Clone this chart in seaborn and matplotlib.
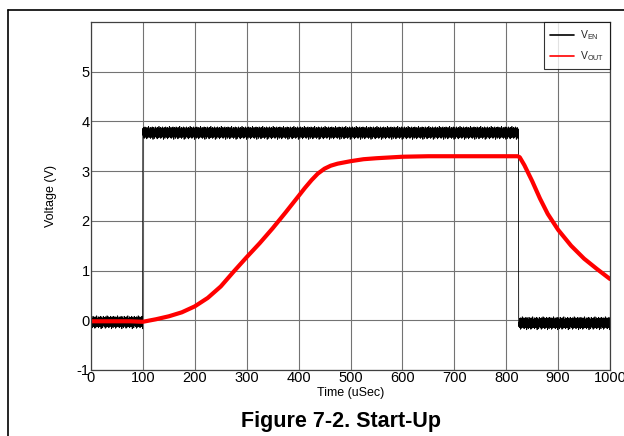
import numpy as np
import pandas as pd
import matplotlib.pyplot as plt
import seaborn as sns
from matplotlib.lines import Line2D

sns.set_style("whitegrid", {"grid.color": ".45", "axes.edgecolor": ".25"})
plt.rcParams['font.family'] = ['Liberation Sans', 'DejaVu Sans']
plt.rcParams['axes.unicode_minus'] = False

# V_EN: step levels, plus a short hand-read noise pattern
ven_edges = [100, 824]
ven_levels = [-0.03, 3.78, -0.05]
ven_noise = [0.08, -0.06, 0.10, -0.09, 0.04, -0.12, 0.07, -0.04, 0.11, -0.08,
             0.02, -0.10, 0.09, -0.07, 0.05, -0.13, 0.10, -0.05, 0.08, -0.11,
             0.03, -0.09, 0.12, -0.06, 0.07, -0.10, 0.04, -0.08, 0.10, -0.12,
             0.06, -0.05, 0.09, -0.10, 0.02, -0.07, 0.11, -0.09, 0.05, -0.14]

# V_OUT
vout_t = [0, 25, 50, 75, 100, 125, 150, 175, 200, 225, 250, 275, 300, 325, 350,
          375, 400, 412, 425, 437, 450, 462, 475, 500, 525, 550, 600, 650, 700,
          750, 800, 822, 826, 835, 850, 865, 880, 900, 925, 950, 975, 1000]
vout_v = [-0.02, -0.02, -0.02, -0.02, -0.03, 0.02, 0.08, 0.16, 0.28, 0.45, 0.68,
          0.98, 1.27, 1.55, 1.85, 2.17, 2.50, 2.66, 2.82, 2.95, 3.05, 3.11, 3.15,
          3.20, 3.24, 3.26, 3.29, 3.30, 3.30, 3.30, 3.30, 3.30, 3.28, 3.12, 2.80,
          2.45, 2.14, 1.82, 1.50, 1.24, 1.03, 0.83]

t = np.arange(0, 1000.5, 0.5)
ven = np.select([t < ven_edges[0], t < ven_edges[1]], ven_levels[:2], ven_levels[2])
ven = ven + np.resize(ven_noise, t.size)
df_en = pd.DataFrame({"Time": t, "V": ven})
df_out = pd.DataFrame({"Time": vout_t, "V": vout_v})

fig = plt.figure(figsize=(6.24, 4.36), dpi=100)
ax = fig.add_axes([0.1458, 0.1514, 0.8318, 0.7981])

sns.lineplot(data=df_en, x="Time", y="V", color="black", lw=0.6,
             estimator=None, sort=False, ax=ax, label="V$_{\\mathregular{EN}}$")
sns.lineplot(data=df_out, x="Time", y="V", color="#ff0000", lw=3.0,
             estimator=None, sort=False, ax=ax, label="V$_{\\mathregular{OUT}}$")

ax.set_xlim(0, 1000)
ax.set_ylim(-1, 6)
ax.set_xticks(range(0, 1001, 100))
ax.set_yticks(range(-1, 6))
ax.tick_params(labelsize=10.5, pad=1, length=0, labelcolor="black")
ax.grid(True, lw=0.8)
for s in ax.spines.values():
    s.set_linewidth(0.9)
ax.set_xlabel("Time (uSec)", fontsize=9, labelpad=1, color="black")
ax.set_ylabel("Voltage (V)", fontsize=9, labelpad=14, color="black")

leg = ax.legend(loc="upper right", fontsize=7.5, frameon=True, fancybox=False,
                borderaxespad=0, handlelength=2.3, handletextpad=0.5,
                borderpad=0.6, labelspacing=0.7)
leg.get_frame().set_edgecolor("black")
leg.get_frame().set_linewidth(0.8)
for h in leg.get_lines():
    h.set_linewidth(1.2)

fig.text(0.547, 0.021, "Figure 7-2. Start-Up", ha="center", fontsize=15.5,
         fontweight="bold", color="black")

# outer frame of the figure panel
fig.add_artist(Line2D([8 / 624, 8 / 624], [0, 1 - 10 / 436], color="black", lw=1.2))
fig.add_artist(Line2D([8 / 624, 1], [1 - 10 / 436, 1 - 10 / 436], color="black", lw=1.2))

fig.savefig("out.png", dpi=100)
